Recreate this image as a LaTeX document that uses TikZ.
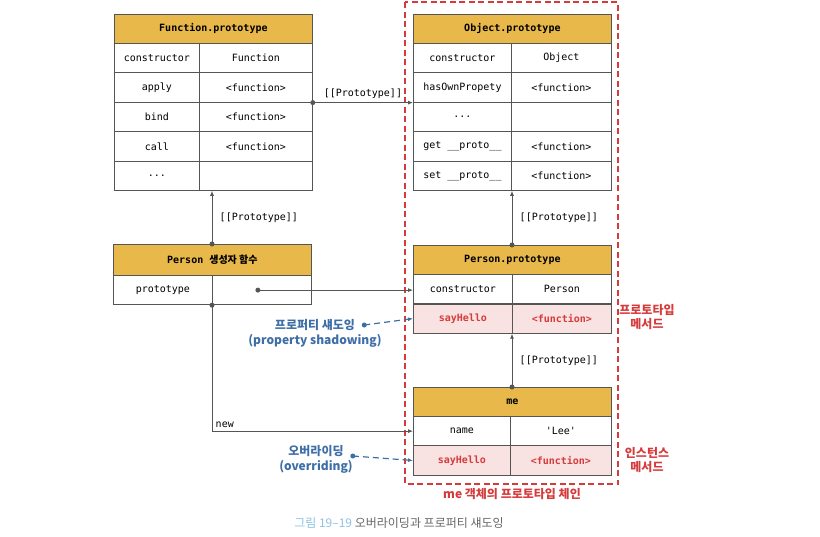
\documentclass[tikz,border=0pt]{standalone}
\usepackage{fontspec}
\setmonofont{DejaVu Sans Mono}
\newfontfamily\kr{Noto Sans CJK KR}
\usetikzlibrary{positioning, arrows.meta}

\definecolor{hdr}{HTML}{E8B84A}
\definecolor{pinkrow}{HTML}{F9E2E2}
\definecolor{redtxt}{HTML}{D63B3B}
\definecolor{bluetxt}{HTML}{3E6EA6}
\definecolor{edge}{HTML}{555555}
\definecolor{capblue}{HTML}{8EC1E4}
\definecolor{capgray}{HTML}{666666}

\begin{document}
\begin{tikzpicture}[x=1pt, y=-1pt,
    cell/.style={draw=edge, line width=0.8pt, inner sep=0pt, anchor=north west,
      minimum height=29.4pt, font=\ttfamily\fontsize{10}{12}\selectfont},
    head/.style={cell, fill=hdr, minimum width=198pt, minimum height=29pt,
      font=\ttfamily\bfseries\fontsize{10}{12}\selectfont},
    own/.style={cell, fill=pinkrow, text=redtxt,
      font=\ttfamily\bfseries\fontsize{10}{12}\selectfont},
    dot/.style={circle, fill=edge, inner sep=0pt, minimum size=5pt},
    bluedot/.style={circle, fill=bluetxt, inner sep=0pt, minimum size=5pt},
    link/.style={draw=edge, line width=0.8pt, -{Latex[length=5pt,width=4pt]}},
    hint/.style={draw=bluetxt, line width=1.2pt, dash pattern=on 6pt off 4pt,
      -{Latex[length=5pt,width=4pt]}},
    note/.style={text=bluetxt, font=\kr\bfseries\fontsize{12}{15}\selectfont, align=center},
    side/.style={text=redtxt, font=\kr\bfseries\fontsize{12}{14.5}\selectfont, align=center},
    plabel/.style={font=\ttfamily\fontsize{10}{12}\selectfont},
  ]
\useasboundingbox (0,0) rectangle (820,536);

% Function.prototype
\node[head] (fp) at (114,14) {Function.prototype};
\foreach \i/\k/\v in {1/constructor/Function, 2/apply/<function>, 3/bind/<function>,
    4/call/<function>, 5/{...}/{}} {
  \node[cell, minimum width=85pt] (fp k\i) at (114,{43+(\i-1)*29.4}) {\k};
  \node[cell, minimum width=113pt] (fp v\i) at (199,{43+(\i-1)*29.4}) {\v};
}

% Object.prototype
\node[head] (op) at (413,14) {Object.prototype};
\foreach \i/\k/\v in {1/constructor/Object, 2/hasOwnPropety/<function>, 3/{...}/{},
    4/get \_\_proto\_\_/<function>, 5/set \_\_proto\_\_/<function>} {
  \node[cell, minimum width=98pt] (op k\i) at (413,{43+(\i-1)*29.4}) {\k};
  \node[cell, minimum width=100pt] (op v\i) at (511,{43+(\i-1)*29.4}) {\v};
}

% Person constructor
\node[head, minimum height=31pt] (pc) at (113,244) {Person {\kr\bfseries 생성자 함수}};
\node[cell, minimum width=99pt] (pc k) at (113,275) {prototype};
\node[cell, minimum width=99pt] (pc v) at (212,275) {};

% Person.prototype
\node[head] (pp) at (413,245) {Person.prototype};
\node[cell, minimum width=99pt] (pp k1) at (413,274) {constructor};
\node[cell, minimum width=99pt] (pp v1) at (512,274) {Person};
\node[own, minimum width=99pt] (pp k2) at (413,303.5) {sayHello};
\node[own, minimum width=99pt] (pp v2) at (512,303.5) {<function>};

% me
\node[head] (me) at (413,387) {me};
\node[cell, minimum width=97pt] (me k1) at (413,416) {name};
\node[cell, minimum width=101pt] (me v1) at (510,416) {'Lee'};
\node[own, minimum width=97pt] (me k2) at (413,445.4) {sayHello};
\node[own, minimum width=101pt] (me v2) at (510,445.4) {<function>};

% prototype chain box
\draw[redtxt, line width=1.3pt, dash pattern=on 6pt off 3.5pt] (405,2) rectangle (618,484);
\node[side] (chain) at (512,494) {me 객체의 프로토타입 체인};
\node[side] (protometh) at (647,317) {프로토타입\\메서드};
\node[side] (instmeth) at (647,460) {인스턴스\\메서드};

% [[Prototype]] links
\node[dot] (d1) at (fp v2.south east) {};
\draw[link] (d1.center) -- (op k2.south west) node[midway, above, plabel] {[[Prototype]]};
\node[dot] (d2) at (pc.north -| pc v.west) {};
\draw[link] (d2.center) -- (d2.center |- fp k5.south) node[midway, right=4pt, plabel] {[[Prototype]]};
\node[dot] (d3) at (pp.north -| pp v1.west) {};
\draw[link] (d3.center) -- (d3.center |- op k5.south) node[midway, right=4pt, plabel] {[[Prototype]]};
\node[dot] (d4) at (me.north -| pp v1.west) {};
\draw[link] (d4.center) -- (d4.center |- pp k2.south) node[midway, right=4pt, plabel] {[[Prototype]]};

% prototype / new
\node[dot] (d5) at ([xshift=-4pt]pc v.center) {};
\draw[link] (d5.center) -- (d5.center -| pp k1.west);
\node[dot] (d6) at (pc v.south west) {};
\draw[link] (d6.center) |- (me k1.west) node[pos=0.5, above right, plabel] {new};

% shadowing / overriding
\node[note] (shadow) at (315,325) {프로퍼티 섀도잉};
\node[note, below=-3pt of shadow] (shadowen) {(property shadowing)};
\node[bluedot, right=3pt of shadow] (d7) {};
\draw[hint] (d7.center) -- (pp k2.west);
\node[note] (over) at (316,451) {오버라이딩};
\node[note, below=-3pt of over] (overen) {(overriding)};
\node[bluedot, right=3pt of over, yshift=-5pt] (d8) {};
\draw[hint] (d8.center) -- (me k2.west);

% caption
\node[font=\kr\fontsize{12}{14}\selectfont] (caption) at (399,523)
  {\textcolor{capblue}{그림 19–19} \textcolor{capgray}{오버라이딩과 프로퍼티 섀도잉}};
\end{tikzpicture}
\end{document}
